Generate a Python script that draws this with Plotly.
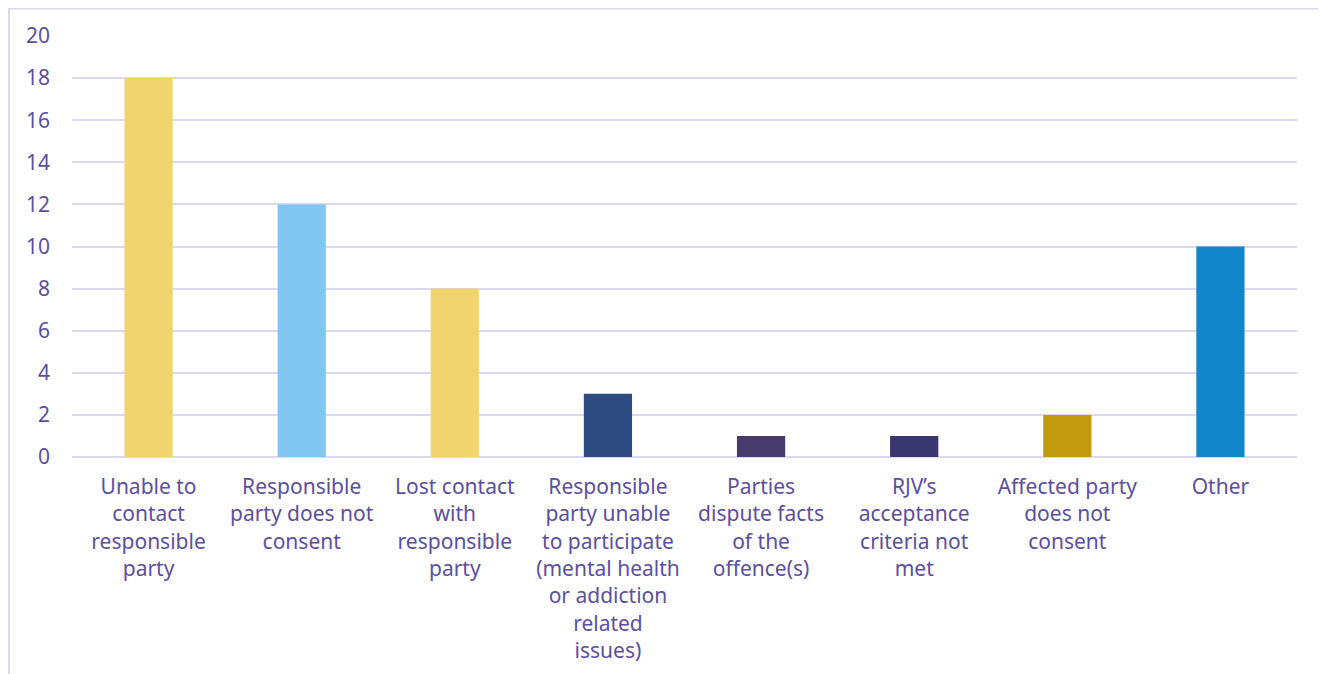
import plotly.graph_objects as go

categories = [
    "Unable to<br>contact<br>responsible<br>party",
    "Responsible<br>party does not<br>consent",
    "Lost contact<br>with<br>responsible<br>party",
    "Responsible<br>party unable<br>to participate<br>(mental health<br>or addiction<br>related<br>issues)",
    "Parties<br>dispute facts<br>of the<br>offence(s)",
    "RJV\u2019s<br>acceptance<br>criteria not<br>met",
    "Affected party<br>does not<br>consent",
    "Other",
]
values = [18, 12, 8, 3, 1, 1, 2, 10]
colors = ["#F2D46E", "#7FC6F2", "#F2D46E", "#2E4B80", "#473B6B", "#3A3670", "#C29A0F", "#1385CA"]

text_color = "#5B4FA0"
grid_color = "#DCD9EE"

fig = go.Figure(go.Bar(x=categories, y=values, marker=dict(color=colors, line=dict(width=0)),
                       hoverinfo="x+y"))

L, T, PW, PH = 64, 28, 1225, 421

fig.update_layout(
    width=1326, height=674,
    margin=dict(l=L, r=1326 - L - PW, t=T, b=674 - T - PH),
    paper_bgcolor="white", plot_bgcolor="white",
    bargap=0.685,
    showlegend=False,
    font=dict(family="Noto Sans, DejaVu Sans, sans-serif", size=21, color=text_color),
    xaxis=dict(showgrid=False, showline=False, ticks="", tickfont=dict(size=21, color=text_color),
               ticklabelstandoff=15, tickangle=0),
    yaxis=dict(range=[0, 20], dtick=2, showgrid=True, gridcolor=grid_color, gridwidth=2,
               zeroline=True, zerolinecolor=grid_color, zerolinewidth=2, showline=False,
               ticks="", tickfont=dict(size=21, color=text_color), ticklabelstandoff=21),
    shapes=[dict(type="rect", xref="paper", yref="paper",
                 x0=(1 - L) / PW, x1=(1317 - L) / PW,
                 y0=-0.7, y1=1 + (T - 0.5) / PH,
                 line=dict(color="#DAD8EC", width=2), fillcolor="rgba(0,0,0,0)", layer="below")],
)

fig.write_html("out.html")
